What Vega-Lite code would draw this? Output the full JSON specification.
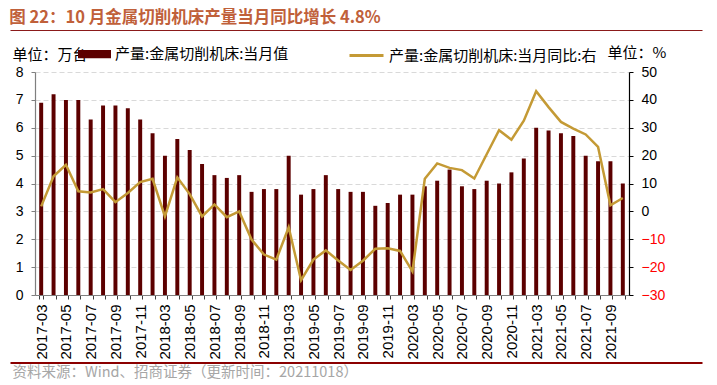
{
  "$schema": "https://vega.github.io/schema/vega-lite/v6.json",
  "width": 594,
  "height": 223,
  "autosize": {"type": "none"},
  "padding": {"left": 35, "top": 72, "right": 88, "bottom": 90},
  "background": "#ffffff",
  "config": {
    "font": "Liberation Sans, Noto Sans CJK SC",
    "view": {"stroke": null},
    "axis": {"labelFont": "Liberation Sans, Noto Sans CJK SC", "labelFontSize": 14, "labelColor": "#000000", "tickSize": 4, "grid": false, "titleFont": "Noto Sans CJK SC", "titleFontWeight": "normal"}
  },
  "title": {
    "text": "图 22：10 月金属切削机床产量当月同比增长 4.8%",
    "anchor": "start",
    "fontSize": 16.5,
    "fontWeight": "bold",
    "font": "Noto Sans CJK SC",
    "color": "#C0603A",
    "offset": 4,
    "dx": 2
  },
  "data": {
    "values": [
      {"month": "2017-03", "output": 6.9, "yoy": 1.8},
      {"month": "2017-04", "output": 7.2, "yoy": 12.6},
      {"month": "2017-05", "output": 7.0, "yoy": 16.7},
      {"month": "2017-06", "output": 7.0, "yoy": 7.2},
      {"month": "2017-07", "output": 6.3, "yoy": 6.8},
      {"month": "2017-08", "output": 6.8, "yoy": 8.0},
      {"month": "2017-09", "output": 6.8, "yoy": 3.3},
      {"month": "2017-10", "output": 6.7, "yoy": 6.6},
      {"month": "2017-11", "output": 6.3, "yoy": 10.5},
      {"month": "2017-12", "output": 5.8, "yoy": 11.7},
      {"month": "2018-03", "output": 5.0, "yoy": -1.8},
      {"month": "2018-04", "output": 5.6, "yoy": 12.2},
      {"month": "2018-05", "output": 5.2, "yoy": 6.2},
      {"month": "2018-06", "output": 4.7, "yoy": -1.8},
      {"month": "2018-07", "output": 4.3, "yoy": 2.5},
      {"month": "2018-08", "output": 4.2, "yoy": -2.1},
      {"month": "2018-09", "output": 4.3, "yoy": 0.0},
      {"month": "2018-10", "output": 3.7, "yoy": -10.1},
      {"month": "2018-11", "output": 3.8, "yoy": -15.5},
      {"month": "2018-12", "output": 3.8, "yoy": -17.3},
      {"month": "2019-03", "output": 5.0, "yoy": -5.7},
      {"month": "2019-04", "output": 3.6, "yoy": -24.7},
      {"month": "2019-05", "output": 3.8, "yoy": -17.3},
      {"month": "2019-06", "output": 4.3, "yoy": -14.0},
      {"month": "2019-07", "output": 3.8, "yoy": -17.6},
      {"month": "2019-08", "output": 3.7, "yoy": -21.0},
      {"month": "2019-09", "output": 3.7, "yoy": -17.7},
      {"month": "2019-10", "output": 3.2, "yoy": -13.4},
      {"month": "2019-11", "output": 3.3, "yoy": -13.2},
      {"month": "2019-12", "output": 3.6, "yoy": -14.2},
      {"month": "2020-03", "output": 3.6, "yoy": -21.5},
      {"month": "2020-04", "output": 3.9, "yoy": 11.7},
      {"month": "2020-05", "output": 4.1, "yoy": 17.2},
      {"month": "2020-06", "output": 4.5, "yoy": 15.6},
      {"month": "2020-07", "output": 3.9, "yoy": 14.8},
      {"month": "2020-08", "output": 3.8, "yoy": 11.8},
      {"month": "2020-09", "output": 4.1, "yoy": 20.5},
      {"month": "2020-10", "output": 4.0, "yoy": 29.1},
      {"month": "2020-11", "output": 4.4, "yoy": 25.7},
      {"month": "2020-12", "output": 4.9, "yoy": 32.5},
      {"month": "2021-03", "output": 6.0, "yoy": 43.1},
      {"month": "2021-04", "output": 5.9, "yoy": 37.4},
      {"month": "2021-05", "output": 5.8, "yoy": 32.1},
      {"month": "2021-06", "output": 5.7, "yoy": 29.7},
      {"month": "2021-07", "output": 5.0, "yoy": 27.6},
      {"month": "2021-08", "output": 4.8, "yoy": 23.1},
      {"month": "2021-09", "output": 4.8, "yoy": 2.2},
      {"month": "2021-10", "output": 4.0, "yoy": 4.8}
    ]
  },
  "layer": [
    {
      "mark": {"type": "bar"},
      "encoding": {
        "x": {
          "field": "month", "type": "ordinal", "sort": null,
          "scale": {"type": "band", "paddingInner": 0.68, "paddingOuter": 0.34},
          "axis": {
            "orient": "bottom", "title": null,
            "labelAngle": -90, "labelFontSize": 15,
            "labelExpr": "isString(datum.value) && toNumber(substring(datum.value, 5, 7)) % 2 == 1 ? datum.value : ''",
            "labelOverlap": false, "tickBand": "extent", "labelPadding": 5,
            "domainColor": "#7F7F7F", "domainWidth": 1.2, "tickColor": "#404040"
          }
        },
        "y": {
          "field": "output", "type": "quantitative",
          "scale": {"domain": [0, 8], "nice": false, "zero": true},
          "axis": {
            "orient": "left", "values": [0, 1, 2, 3, 4, 5, 6, 7, 8],
            "grid": true, "gridDash": [5, 3], "gridColor": "#D9D9D9", "gridWidth": 1,
            "domainColor": "#7F7F7F", "domainWidth": 1.2, "tickColor": "#7F7F7F", "labelPadding": 8,
            "title": "单位：万台", "titleAngle": 0, "titleX": -23, "titleY": -18,
            "titleAlign": "left", "titleBaseline": "middle", "titleFontSize": 15, "titleColor": "#000000"
          }
        },
        "fill": {
          "datum": "产量:金属切削机床:当月值",
          "scale": {"range": ["#5C0000"]},
          "legend": {
            "title": null, "orient": "none", "legendX": 43, "legendY": -34.5, "padding": 0,
            "symbolType": "M-1,-0.25H1V0.25H-1Z", "symbolSize": 1089, "symbolStrokeWidth": 0,
            "labelFontSize": 15, "labelFont": "Noto Sans CJK SC", "labelColor": "#000000", "labelOffset": 4, "labelLimit": 0
          }
        }
      }
    },
    {
      "mark": {"type": "line", "strokeWidth": 2.5},
      "encoding": {
        "x": {
          "field": "month", "type": "ordinal", "sort": null,
          "scale": {"type": "band", "paddingInner": 0.68, "paddingOuter": 0.34},
          "axis": null
        },
        "y": {
          "field": "yoy", "type": "quantitative",
          "scale": {"domain": [-30, 50], "nice": false, "zero": false},
          "axis": {
            "orient": "right", "values": [-30, -20, -10, 0, 10, 20, 30, 40, 50],
            "grid": false, "domainColor": "#000000", "domainWidth": 1.2, "tickColor": "#000000",
            "labelPadding": 8,
            "labelColor": {"condition": {"test": "datum.value < 0", "value": "#FF0000"}, "value": "#000000"},
            "title": "单位：%", "titleAngle": 0, "titleX": -22, "titleY": -20,
            "titleAlign": "left", "titleBaseline": "middle", "titleFontSize": 15, "titleColor": "#000000"
          }
        },
        "stroke": {
          "datum": "产量:金属切削机床:当月同比:右",
          "scale": {"range": ["#C49A35"]},
          "legend": {
            "title": null, "orient": "none", "legendX": 313, "legendY": -35, "padding": 0,
            "symbolType": "stroke", "symbolSize": 1156, "symbolStrokeWidth": 3,
            "labelFontSize": 15, "labelFont": "Noto Sans CJK SC", "labelColor": "#000000", "labelOffset": 4, "labelLimit": 0
          }
        }
      }
    },
    {
      "data": {"values": [{"d": 0}, {"d": 1}]},
      "mark": {"type": "point", "opacity": 0},
      "encoding": {
        "x": {
          "field": "d", "type": "quantitative",
          "scale": {"domain": [0, 1], "range": [-25, 667], "nice": false, "zero": false},
          "axis": {"orient": "top", "offset": 42, "labels": false, "ticks": false, "grid": false, "title": null, "domainColor": "#8B1A1A", "domainWidth": 1.2}
        }
      }
    },
    {
      "data": {"values": [{"d": 0}, {"d": 1}]},
      "mark": {"type": "point", "opacity": 0},
      "encoding": {
        "x": {
          "field": "d", "type": "quantitative",
          "scale": {"domain": [0, 1], "range": [-25, 667], "nice": false, "zero": false},
          "axis": {
            "orient": "bottom", "offset": 67.5, "labels": false, "ticks": false, "grid": false,
            "domainColor": "#8B0000", "domainWidth": 2,
            "title": "资料来源：Wind、招商证券（更新时间：20211018）",
            "titleX": -23, "titleY": 10, "titleAlign": "left", "titleBaseline": "middle",
            "titleFontSize": 14.5, "titleColor": "#A6A6A6", "titleFont": "Noto Sans CJK SC"
          }
        }
      }
    }
  ],
  "resolve": {"scale": {"x": "independent", "y": "independent"}}
}
